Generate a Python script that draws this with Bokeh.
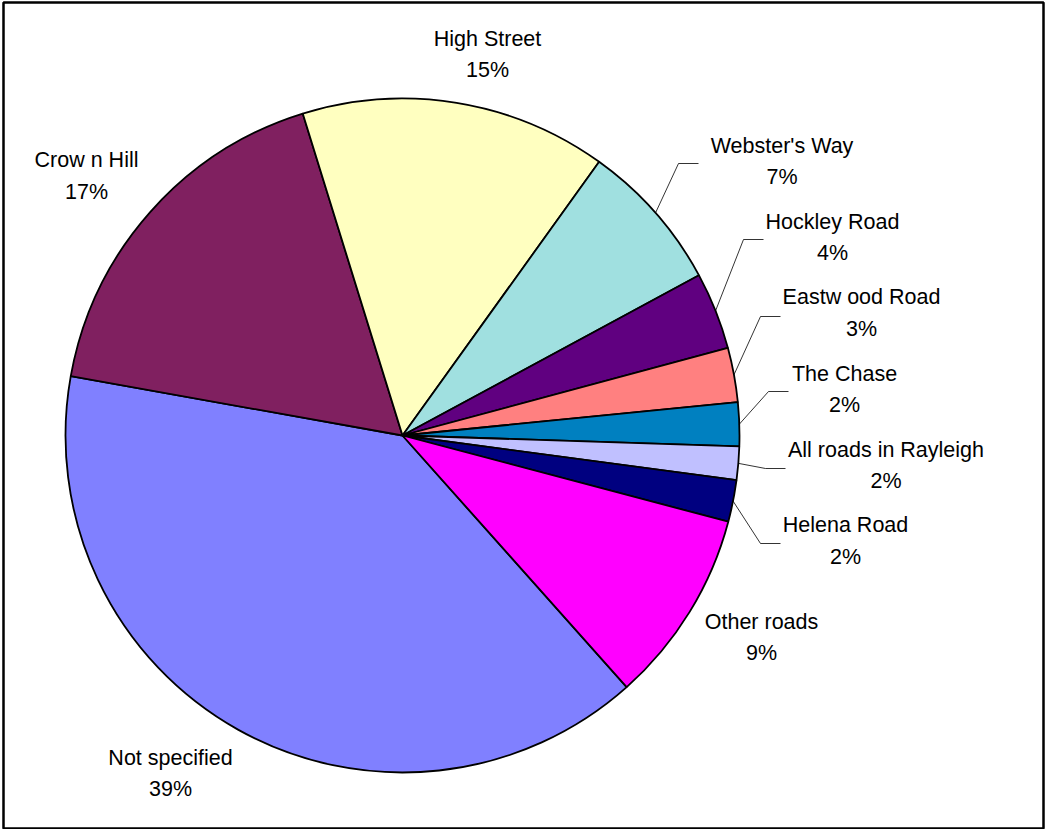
import math
from bokeh.plotting import figure
from bokeh.models import Range1d, ColumnDataSource
from bokeh.core.properties import value
from bokeh.embed import file_html
from bokeh.resources import INLINE

# ---- data ----
categories = ["Not specified", "Crow n Hill", "High Street", "Webster's Way",
              "Hockley Road", "Eastw ood Road", "The Chase",
              "All roads in Rayleigh", "Helena Road", "Other roads"]
shares = [39.4, 17.4, 14.7, 7.2, 3.7, 2.6, 2.1, 1.6, 2.0, 9.3]

# ---- style ----
colors = ["#8080FF", "#802060", "#FFFFC0", "#A0E0E0", "#600080",
          "#FF8080", "#0080C0", "#C0C0FF", "#000080", "#FF00FF"]

W, H = 1046, 829
CX, CY_IMG, R = 402, 435, 337
FIRST_ANGLE = 138.3  # degrees clockwise from 12 o'clock

# label block centres (page pixels)
label_pos = [(170, 773), (86, 175.5), (487, 54), (781.5, 161), (832, 237),
             (861, 312.5), (844, 389), (885.5, 465), (845, 540.5), (761, 637)]
# leader line end points (page pixels), None = no leader
leader_end = [None, None, None, (698, 163), (763, 239), (780, 316),
              (788, 391), (785, 468), (780, 543), None]


def fy(y_img):
    return H - y_img


total = sum(shares)
starts, ends, mids = [], [], []
acc = FIRST_ANGLE
for v in shares:
    span = v / total * 360.0
    starts.append(acc)
    ends.append(acc + span)
    mids.append(acc + span / 2)
    acc += span

# bokeh angles: counter-clockwise from +x
src = ColumnDataSource(dict(
    start=[math.radians(90 - a) for a in starts],
    end=[math.radians(90 - a) for a in ends],
    color=colors,
))

p = figure(width=W, height=H, output_backend="svg", toolbar_location=None,
           x_range=Range1d(3, 1043), y_range=Range1d(1, 827),
           min_border_left=3, min_border_right=3, min_border_top=2,
           min_border_bottom=1)
p.axis.visible = False
p.grid.visible = False
p.outline_line_color = "black"
p.outline_line_width = 2.5
p.background_fill_color = "white"
p.border_fill_color = "white"

cy = fy(CY_IMG)
p.wedge(x=CX, y=cy, radius=R, start_angle="start", end_angle="end",
        direction="clock", fill_color="color", line_color="black",
        line_width=1.8, source=src)

# leader lines
for i, end in enumerate(leader_end):
    if end is None:
        continue
    a = math.radians(mids[i])
    x0 = CX + R * math.sin(a)
    y0 = cy + R * math.cos(a)
    ex, ey = end
    p.line([x0, ex - 20, ex], [y0, fy(ey), fy(ey)], line_color="#000000",
           line_width=0.8)

texts = [f"{c}\n{round(v / total * 100):.0f}%" for c, v in zip(categories, shares)]
p.text(x=[lp[0] for lp in label_pos], y=[fy(lp[1]) for lp in label_pos],
       text=texts, text_align="center", text_baseline="middle",
       text_font=value("Liberation Sans"), text_font_size="21.5px",
       text_line_height=1.33, text_color="black")

open("out.html", "w").write(file_html(p, INLINE))
